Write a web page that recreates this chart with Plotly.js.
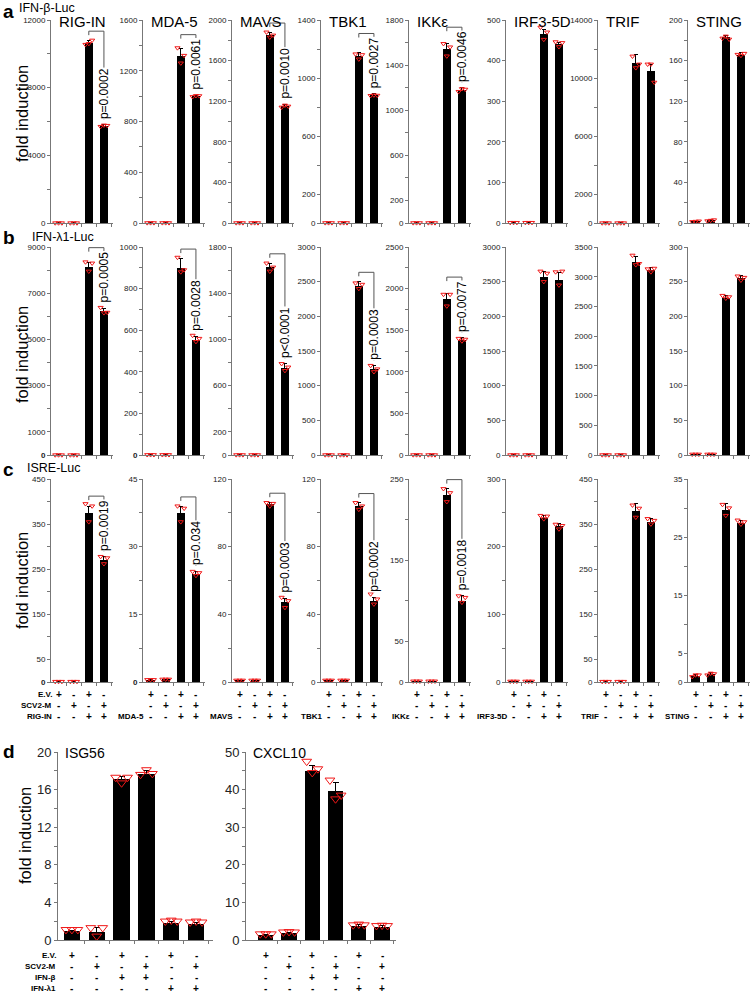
<!DOCTYPE html>
<html>
<head>
<meta charset="utf-8">
<script src="https://cdn.plot.ly/plotly-3.0.1.min.js"></script>
<style>
  body { margin: 0; background: #fff; }
  #fig { width: 752px; height: 996px; }
</style>
</head>
<body>
<div id="fig"></div>
<script>
// bars in rows a-c: E.V., SCV2-M, stimulus, stimulus + SCV2-M
const stimuli = ['RIG-IN', 'MDA-5', 'MAVS', 'TBK1', 'IKKε', 'IRF3-5D', 'TRIF', 'STING'];
const evSigns = ['+', '-', '+', '-'];
const scv2Signs = ['-', '+', '-', '+'];
const stimSigns = ['-', '-', '+', '+'];

// a: IFN-β-Luc
const ifnbMean = [
  [1, 1, 10650, 5750], [1, 1, 1320, 1000], [1, 1, 1850, 1150], [1, 1, 1150, 880],
  [1, 1, 1540, 1180], [1, 1, 465, 440], [1, 1, 11050, 10450], [1.5, 2.5, 183, 166]
];
const ifnbErr = [
  [0, 0, 150, 60], [0, 0, 55, 8], [0, 0, 30, 20], [0, 0, 25, 10],
  [0, 0, 50, 20], [0, 0, 12, 5], [0, 0, 600, 450], [0.3, 0.5, 2, 1.5]
];
const ifnbReps = [
  [[1, 1, 1], [1, 1, 1], [10550, 10600, 10800], [5700, 5780, 5760]],
  [[1, 1, 1], [1, 1, 1], [1380, 1260, 1320], [995, 1003, 1002]],
  [[1, 1, 1], [1, 1, 1], [1880, 1830, 1850], [1140, 1160, 1150]],
  [[1, 1, 1], [1, 1, 1], [1165, 1130, 1160], [878, 882, 880]],
  [[1, 1, 1], [1, 1, 1], [1590, 1480, 1560], [1165, 1190, 1185]],
  [[1, 1, 1], [1, 1, 1], [482, 452, 470], [446, 434, 444]],
  [[1, 1, 1], [1, 1, 1], [11500, 10700, 10950], [10950, 10950, 9700]],
  [[1.2, 1.5, 1.8], [2, 2.5, 3], [182, 184, 181], [166, 165, 167]]
];
const ifnbP = ['p=0.0002', 'p=0.0061', 'p=0.0010', 'p=0.0027', 'p=0.0046', null, null, null];
// [axis max, tick step, labelled ticks]
const ifnbAxes = [
  [12000, 2000, [0, 4000, 8000, 12000]], [1600, 200, [0, 400, 800, 1200, 1600]],
  [2000, 200, [0, 400, 800, 1200, 1600, 2000]], [1400, 200, [0, 200, 600, 1000, 1400]],
  [1800, 200, [0, 200, 600, 1000, 1400, 1800]], [500, 100, [0, 100, 200, 300, 400, 500]],
  [14000, 2000, [0, 2000, 6000, 10000, 14000]], [200, 20, [0, 40, 80, 120, 160, 200]]
];

// b: IFN-λ1-Luc
const ifnlMean = [
  [1, 1, 8150, 6230], [1, 1, 900, 555], [1, 1, 1625, 750], [1, 1, 2440, 1240],
  [1, 1, 1870, 1380], [1, 1, 2570, 2520], [1, 1, 3250, 3110], [1, 1, 227, 255]
];
const ifnlErr = [
  [0, 0, 200, 120], [0, 0, 45, 15], [0, 0, 35, 40], [0, 0, 60, 50],
  [0, 0, 70, 30], [0, 0, 80, 110], [0, 0, 90, 40], [0, 0, 3, 4]
];
const ifnlReps = [
  [[1, 1, 1], [1, 1, 1], [8350, 7950, 8300], [6380, 6150, 6170]],
  [[1, 1, 1], [1, 1, 1], [950, 880, 890], [575, 545, 560]],
  [[1, 1, 1], [1, 1, 1], [1660, 1590, 1625], [790, 730, 760]],
  [[1, 1, 1], [1, 1, 1], [2480, 2400, 2460], [1290, 1200, 1240]],
  [[1, 1, 1], [1, 1, 1], [1930, 1790, 1930], [1400, 1370, 1390]],
  [[1, 1, 1], [1, 1, 1], [2650, 2500, 2620], [2640, 2450, 2650]],
  [[1, 1, 1], [1, 1, 1], [3360, 3200, 3220], [3130, 3080, 3140]],
  [[1, 1, 1], [1, 1, 1], [230, 226, 228], [258, 252, 256]]
];
const ifnlP = ['p=0.0005', 'p=0.0028', 'p<0.0001', 'p=0.0003', 'p=0.0077', null, null, null];
const ifnlAxes = [
  [9000, 1000, [0, 1000, 3000, 5000, 7000, 9000]], [1000, 100, [0, 200, 400, 600, 800, 1000]],
  [1800, 200, [0, 200, 600, 1000, 1400, 1800]], [3000, 500, [0, 500, 1000, 1500, 2000, 2500, 3000]],
  [2500, 250, [0, 500, 1000, 1500, 2000, 2500]], [3000, 500, [0, 500, 1000, 1500, 2000, 2500, 3000]],
  [3500, 500, [0, 500, 1000, 1500, 2000, 2500, 3000, 3500]], [300, 50, [0, 50, 100, 150, 200, 250, 300]]
];

// c: ISRE-Luc
const isreMean = [
  [1, 1, 375, 270], [0.5, 0.6, 37.5, 24], [1, 1, 105, 47], [1, 1, 104, 48],
  [1, 1, 230, 100], [1, 1, 243, 230], [1, 1, 380, 355], [1.1, 1.3, 29.6, 27.5]
];
const isreErr = [
  [0, 0, 15, 8], [0.05, 0.05, 1.5, 0.6], [0, 0, 1.2, 2.5], [0, 0, 2, 2],
  [0, 0, 8, 6], [0, 0, 3, 4], [0, 0, 15, 8], [0.2, 0.3, 1.2, 0.4]
];
const isreReps = [
  [[1, 1, 1], [1, 1, 1], [395, 355, 390], [278, 262, 275]],
  [[0.5, 0.5, 0.5], [0.6, 0.6, 0.6], [39, 35.5, 38.5], [24.5, 23.6, 24.2]],
  [[1, 1, 1], [1, 1, 1], [106, 104, 105.5], [50, 44, 48]],
  [[1, 1, 1], [1, 1, 1], [106, 102, 104], [52, 46, 49]],
  [[1, 1, 1], [1, 1, 1], [238, 222, 233], [106, 98, 104]],
  [[1, 1, 1], [1, 1, 1], [246, 241, 245], [233, 226, 231]],
  [[1, 1, 1], [1, 1, 1], [392, 365, 385], [362, 350, 358]],
  [[0.9, 1.2, 1.2], [1.2, 1.5, 1.4], [30.6, 28.7, 30], [27.9, 27.2, 27.6]]
];
const isreP = ['p=0.0019', 'p=0.034', 'p=0.0003', 'p=0.0002', 'p=0.0018', null, null, null];
const isreAxes = [
  [450, 50, [0, 50, 150, 250, 350, 450]], [45, 7.5, [0, 15, 30, 45]],
  [120, 20, [0, 40, 80, 120]], [120, 20, [0, 40, 80, 120]],
  [250, 50, [0, 50, 150, 250]], [300, 50, [0, 100, 200, 300]],
  [450, 50, [0, 50, 150, 250, 350, 450]], [35, 5, [0, 5, 15, 25, 35]]
];

// d: qPCR, E.V. / SCV2-M with no treatment, IFN-β, IFN-λ1
const dGenes = ['ISG56', 'CXCL10'];
const dRowLabels = ['E.V.', 'SCV2-M', 'IFN-β', 'IFN-λ1'];
const dSigns = [
  ['+', '-', '+', '-', '+', '-'],
  ['-', '+', '-', '+', '-', '+'],
  ['-', '-', '+', '+', '-', '-'],
  ['-', '-', '-', '-', '+', '+']
];
const isg56Mean = [0.95, 0.85, 17.1, 17.7, 1.85, 1.75];
const isg56Err = [0.05, 0.5, 0.3, 0.3, 0.1, 0.1];
const isg56Reps = [[1.1, 1.1, 1.1], [1.3, 0.4, 1.3], [17.3, 16.7, 17.3], [17.6, 18.1, 17.7], [2.0, 2.1, 2.0], [1.9, 2.0, 1.9]];
const cxcl10Mean = [1.3, 1.75, 45, 39.5, 3.7, 3.5];
const cxcl10Err = [0.1, 0.3, 1.5, 2.3, 0.3, 0.3];
const cxcl10Reps = [[1.6, 1.6, 1.6], [2.1, 2.2, 2.1], [47.5, 44.5, 45.5], [42.5, 37.5, 38.5], [4.0, 4.2, 4.0], [3.8, 3.9, 3.8]];
const dAxes = [[20, 2, [0, 4, 8, 12, 16, 20]], [50, 5, [0, 10, 20, 30, 40, 50]]];

// ---------- drawing ----------
const W = 752, H = 996;
const FONT = 'Liberation Sans, Arial, sans-serif';
const px = x => x / W;
const py = y => 1 - y / H;

const ctx = document.createElement('canvas').getContext('2d');
ctx.font = '12px "Liberation Sans"';

const data = [];
const shapes = [];
const annotations = [];
const layout = {
  width: W, height: H,
  margin: { l: 0, r: 0, t: 0, b: 0 },
  showlegend: false,
  paper_bgcolor: '#fff',
  plot_bgcolor: 'rgba(0,0,0,0)',
  font: { family: FONT, color: '#000' },
  bargap: 0
};

let panelCount = 0;

function addPanel(o) {
  panelCount += 1;
  const k = panelCount === 1 ? '' : String(panelCount);
  const xid = 'x' + k, yid = 'y' + k;
  const [max, step, labels] = o.axis;
  const tv = [], tt = [];
  for (let i = 0; i * step <= max + 1e-9; i++) {
    const v = +(i * step).toFixed(3);
    tv.push(v);
    let lab = labels.includes(v) ? String(v) : '';
    if (v === 0 && o.boldZero) lab = '<b>0</b>';
    tt.push(lab);
  }
  const xs = o.means.map((_, i) => i);

  layout['xaxis' + k] = {
    domain: [px(o.left), px(o.left + o.width)],
    anchor: yid,
    range: o.xRange,
    showline: true, linecolor: '#777', linewidth: 1,
    ticks: 'outside', ticklen: 3, tickcolor: '#777',
    tickvals: xs.map(i => i + 0.5), showticklabels: false,
    showgrid: false, zeroline: false, fixedrange: true
  };
  layout['yaxis' + k] = {
    domain: [py(o.bottom), py(o.top)],
    anchor: xid,
    range: [0, max],
    showline: true, linecolor: '#777', linewidth: 1,
    ticks: 'outside', ticklen: 3, tickcolor: '#777',
    tickvals: tv, ticktext: tt,
    tickfont: { size: o.tickSize, color: '#222' },
    showgrid: false, zeroline: false, fixedrange: true
  };

  data.push({
    type: 'bar', x: xs, y: o.means, xaxis: xid, yaxis: yid,
    width: o.barWidth,
    marker: { color: '#000', line: { width: 0 } },
    error_y: { type: 'data', array: o.err, visible: true, color: '#000', thickness: 1, width: o.capWidth }
  });

  const rx = [], ry = [];
  o.reps.forEach((trip, i) => {
    trip.forEach((v, j) => { rx.push(i + o.offsets[j]); ry.push(v); });
  });
  data.push({
    type: 'scatter', mode: 'markers', x: rx, y: ry, xaxis: xid, yaxis: yid,
    cliponaxis: false,
    marker: { symbol: 'triangle-down-open', size: o.markerSize, color: '#f01818', line: { width: 1, color: '#f01818' } }
  });

  if (o.p) {
    const pxPerUnit = (o.bottom - o.top) / max;
    const textPx = ctx.measureText(o.p).width;
    const textBottom = o.means[3] + o.err[3] + 0.025 * max;
    const textTop = textBottom + (textPx + 2) / pxPerUnit;
    const by = Math.max(o.means[2] + o.err[2] + 0.045 * max, textTop + 3 / pxPerUnit);
    const drop = 4 / pxPerUnit;
    shapes.push({
      type: 'path', xref: xid, yref: yid,
      path: `M 2 ${by - drop} L 2 ${by} L 3 ${by} L 3 ${textBottom}`,
      line: { color: '#555', width: 1 }
    });
    annotations.push({
      xref: xid, yref: yid, x: 3, y: textBottom,
      text: o.p, textangle: -90, xanchor: 'center', yanchor: 'bottom',
      showarrow: false, bgcolor: '#fff', borderpad: 0,
      font: { size: 12, family: FONT, color: '#000' }
    });
  }
  return xid;
}

function note(x, y, text, size, extra) {
  annotations.push(Object.assign({
    xref: 'paper', yref: 'paper', x: px(x), y: py(y), text,
    showarrow: false, xanchor: 'left', yanchor: 'middle',
    font: { size, family: FONT, color: '#000' }
  }, extra || {}));
}

function sign(xid, i, y, sg) {
  annotations.push({
    xref: xid, yref: 'paper', x: i, y: py(y), text: '<b>' + sg + '</b>',
    showarrow: false, xanchor: 'center', yanchor: 'middle', borderpad: 0,
    font: { size: 10, family: FONT, color: '#000' }
  });
}

// rows a-c
const colLeft = [51, 143, 232, 321, 409, 506, 598, 688];
const rowsABC = [
  { mean: ifnbMean, err: ifnbErr, reps: ifnbReps, axes: ifnbAxes, p: ifnbP, top: 20, bottom: 223 },
  { mean: ifnlMean, err: ifnlErr, reps: ifnlReps, axes: ifnlAxes, p: ifnlP, top: 247, bottom: 455 },
  { mean: isreMean, err: isreErr, reps: isreReps, axes: isreAxes, p: isreP, top: 479, bottom: 682 }
];
const tableYs = [694, 705, 716];

rowsABC.forEach((row, r) => {
  stimuli.forEach((stim, c) => {
    const xid = addPanel({
      left: colLeft[c], width: 62, top: row.top, bottom: row.bottom,
      xRange: [-0.5, 3.6], means: row.mean[c], err: row.err[c], reps: row.reps[c],
      axis: row.axes[c], p: row.p[c], barWidth: 0.55, capWidth: 2,
      offsets: [-0.22, 0, 0.22], markerSize: 4.5, tickSize: 8,
      boldZero: r > 0 && c < 2
    });
    if (r === 0) note(colLeft[c] + 6, 21, stim, 15);
    if (r === 2) {
      [evSigns, scv2Signs, stimSigns].forEach((signs, s) => {
        signs.forEach((sg, i) => sign(xid, i, tableYs[s], sg));
      });
      note(colLeft[c] + 2, tableYs[2], '<b>' + stim + '</b>', 8, { xanchor: 'right', borderpad: 0 });
      if (c === 0) {
        note(colLeft[c] + 2, tableYs[0], '<b>E.V.</b>', 8, { xanchor: 'right', borderpad: 0 });
        note(colLeft[c] + 2, tableYs[1], '<b>SCV2-M</b>', 8, { xanchor: 'right', borderpad: 0 });
      }
    }
  });
});

// row d
const dPanels = [
  { left: 58, width: 155, xRange: [-0.56, 5.68], means: isg56Mean, err: isg56Err, reps: isg56Reps },
  { left: 246, width: 150, xRange: [-0.85, 5.6], means: cxcl10Mean, err: cxcl10Err, reps: cxcl10Reps }
];
const dTableYs = [955, 966, 977, 988];
dPanels.forEach((pd, g) => {
  const xid = addPanel(Object.assign({}, pd, {
    top: 752, bottom: 940, axis: dAxes[g], p: null, barWidth: 0.66, capWidth: 3,
    offsets: [-0.24, 0, 0.24], markerSize: 8.5, tickSize: 13
  }));
  note(pd.left + 5, 753, dGenes[g], 14);
  dSigns.forEach((signs, s) => {
    signs.forEach((sg, i) => sign(xid, i, dTableYs[s], sg));
  });
  if (g === 0) {
    dRowLabels.forEach((lab, s) => note(57, dTableYs[s], '<b>' + lab + '</b>', 8, { xanchor: 'right', borderpad: 0 }));
  }
});

// panel letters, reporter names, y titles
note(1, 11, '<b>a</b>', 19);
note(17, 8, 'IFN-β-Luc', 12.5);
note(1, 238, '<b>b</b>', 19);
note(30, 237, 'IFN-λ1-Luc', 12.5);
note(1, 469, '<b>c</b>', 19);
note(25, 468, 'ISRE-Luc', 12.5);
note(1, 751, '<b>d</b>', 19);
[[22, 114], [22, 355], [22, 581], [25, 836]].forEach(([x, y]) => {
  note(x, y, 'fold induction', 16.5, { textangle: -90, xanchor: 'center' });
});

layout.shapes = shapes;
layout.annotations = annotations;

Plotly.newPlot('fig', data, layout, { displayModeBar: false, staticPlot: true });
</script>
</body>
</html>
